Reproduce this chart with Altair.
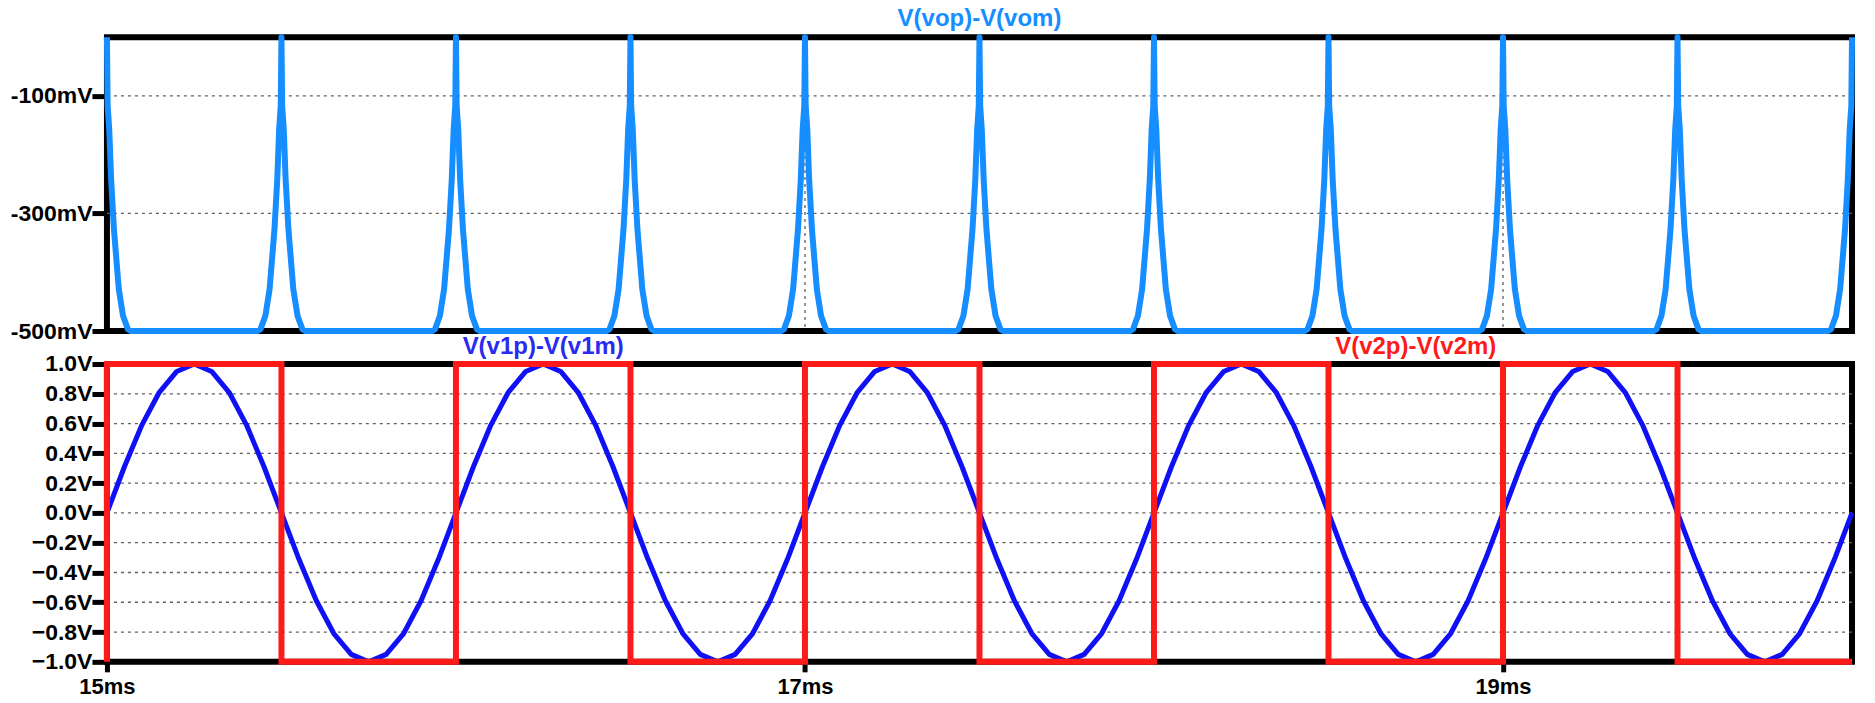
import altair as alt
import pandas as pd

# ---------------- data (time in ms) ----------------
# top trace V(vop)-V(vom): a spike every 0.5 ms, flat at -500 mV in between
spike_centers_ms = [15.0, 15.5, 16.0, 16.5, 17.0, 17.5, 18.0, 18.5, 19.0, 19.5, 20.0]
spike_offset_ms = [-0.069, -0.060, -0.046, -0.034, -0.020, -0.012, -0.0066, -0.002, 0.0,
                   0.002, 0.0066, 0.012, 0.020, 0.034, 0.046, 0.060, 0.069]
spike_mv = [-500, -497, -474, -429, -327, -242, -157, -117, 0,
            -117, -157, -242, -327, -429, -474, -497, -500]

# V(v1p)-V(v1m): sine sampled every 0.05 ms from 15 ms to 20 ms
sine_t_ms = [round(15 + 0.05 * i, 2) for i in range(101)]
sine_v = [
    0.00, 0.31, 0.59, 0.81, 0.95, 1.00, 0.95, 0.81, 0.59, 0.31,
    0.00, -0.31, -0.59, -0.81, -0.95, -1.00, -0.95, -0.81, -0.59, -0.31,
    0.00, 0.31, 0.59, 0.81, 0.95, 1.00, 0.95, 0.81, 0.59, 0.31,
    0.00, -0.31, -0.59, -0.81, -0.95, -1.00, -0.95, -0.81, -0.59, -0.31,
    0.00, 0.31, 0.59, 0.81, 0.95, 1.00, 0.95, 0.81, 0.59, 0.31,
    0.00, -0.31, -0.59, -0.81, -0.95, -1.00, -0.95, -0.81, -0.59, -0.31,
    0.00, 0.31, 0.59, 0.81, 0.95, 1.00, 0.95, 0.81, 0.59, 0.31,
    0.00, -0.31, -0.59, -0.81, -0.95, -1.00, -0.95, -0.81, -0.59, -0.31,
    0.00, 0.31, 0.59, 0.81, 0.95, 1.00, 0.95, 0.81, 0.59, 0.31,
    0.00, -0.31, -0.59, -0.81, -0.95, -1.00, -0.95, -0.81, -0.59, -0.31,
    0.00,
]

# V(v2p)-V(v2m): square wave
sq_t_ms = [15.0, 15.0, 15.5, 15.5, 16.0, 16.0, 16.5, 16.5, 17.0, 17.0, 17.5,
           17.5, 18.0, 18.0, 18.5, 18.5, 19.0, 19.0, 19.5, 19.5, 20.0]
sq_v = [-1, 1, 1, -1, -1, 1, 1, -1, -1, 1, 1,
        -1, -1, 1, 1, -1, -1, 1, 1, -1, -1]

# axes / grid
x_tick_values = [15, 17, 19]
x_grid_values = [17, 19]
top_tick_values = [-100, -300, -500]
top_grid_values = [-100, -300]
bot_tick_values = [1.0, 0.8, 0.6, 0.4, 0.2, 0.0, -0.2, -0.4, -0.6, -0.8, -1.0]
bot_grid_values = [0.8, 0.6, 0.4, 0.2, 0.0, -0.2, -0.4, -0.6, -0.8]

top_title = ["V(vop)-V(vom)"]
top_title_t = [17.5]
bot_titles = ["V(v1p)-V(v1m)", "V(v2p)-V(v2m)"]
bot_titles_t = [16.25, 18.75]

# ---------------- tables ----------------
rows = []
for c in spike_centers_ms:
    for o, v in zip(spike_offset_ms, spike_mv):
        t = round(c + o, 4)
        if 15.0 <= t <= 20.0:
            rows.append((t, v))
top_df = pd.DataFrame(rows, columns=["t", "v"])
top_df["i"] = range(len(top_df))

sine_df = pd.DataFrame({"t": sine_t_ms, "v": sine_v})
sine_df["i"] = range(len(sine_df))
sq_df = pd.DataFrame({"t": sq_t_ms, "v": sq_v})
sq_df["i"] = range(len(sq_df))

FONT = "Liberation Sans"
LIGHTBLUE = "#168EFF"
BLUE = "#1010F5"
RED = "#FF1A1A"
GRID = "#606060"
W = 1746

xscale = alt.Scale(domain=[15, 20], nice=False, zero=False)
x_top = alt.X("t:Q", scale=xscale, axis=None)
x_bot = alt.X("t:Q", scale=xscale, title=None, axis=alt.Axis(
    values=x_tick_values, labelExpr="datum.value + 'ms'", grid=False, domain=False,
    tickSize=10, tickWidth=5, tickColor="black", labelFont=FONT, labelFontSize=22,
    labelFontWeight="bold", labelColor="black", labelPadding=5, labelFlush=False,
    labelOverlap=False))

def yaxis(vals, expr):
    return alt.Axis(values=vals, labelExpr=expr, grid=False, domain=False,
                    tickSize=15, tickWidth=5, tickColor="black", labelFont=FONT,
                    labelFontSize=23, labelFontWeight="bold", labelColor="black",
                    labelPadding=0, labelOverlap=False, labelFlush=False)

y_top = alt.Y("v:Q", scale=alt.Scale(domain=[-500, 0], nice=False, zero=False),
              title=None, axis=yaxis(top_tick_values, "datum.value + 'mV'"))
y_bot = alt.Y("v:Q", scale=alt.Scale(domain=[-1, 1], nice=False, zero=False),
              title=None, axis=yaxis(bot_tick_values, "format(datum.value, '.1f') + 'V'"))

def hgrid(vals, y):
    return alt.Chart(pd.DataFrame({"v": vals})).mark_rule(
        color=GRID, strokeWidth=1.3, strokeDash=[3, 4]).encode(y=y)

def vgrid(x):
    return alt.Chart(pd.DataFrame({"t": x_grid_values})).mark_rule(
        color=GRID, strokeWidth=1.3, strokeDash=[3, 4]).encode(x=x)

top_line = alt.Chart(top_df).mark_line(color=LIGHTBLUE, strokeWidth=6, strokeJoin="round").encode(
    x=x_top, y=y_top, order="i:Q")
top_text = alt.Chart(pd.DataFrame({"t": top_title_t, "lab": top_title})).mark_text(
    font=FONT, fontSize=24, fontWeight="bold", color=LIGHTBLUE, baseline="middle", align="center"
).encode(x=x_top, y=alt.value(-18), text="lab:N")

top = alt.layer(hgrid(top_grid_values, y_top), vgrid(x_top), top_line, top_text).properties(
    width=W, height=294)

sine_line = alt.Chart(sine_df).mark_line(color=BLUE, strokeWidth=5, strokeJoin="round").encode(
    x=x_bot, y=y_bot, order="i:Q")
sq_line = alt.Chart(sq_df).mark_line(color=RED, strokeWidth=6, strokeJoin="miter").encode(
    x=x_bot, y=y_bot, order="i:Q")
bot_text = alt.Chart(pd.DataFrame({"t": bot_titles_t, "lab": bot_titles,
                                   "c": ["blue", "red"]})).mark_text(
    font=FONT, fontSize=24, fontWeight="bold", baseline="middle", align="center"
).encode(x=x_bot, y=alt.value(-17), text="lab:N",
         color=alt.Color("c:N", scale=alt.Scale(domain=["blue", "red"], range=["#2A2AF0", RED]),
                         legend=None))

bottom = alt.layer(hgrid(bot_grid_values, y_bot), vgrid(x_bot), sine_line, sq_line, bot_text).properties(
    width=W, height=298)

chart = alt.vconcat(top, bottom, spacing=33, bounds="flush").properties(
    padding={"left": 7, "top": 4, "right": 8, "bottom": 2},
    background="white",
).configure_view(stroke="black", strokeWidth=6)

chart.save("out.html", embed_options={"renderer": "svg", "actions": False})
